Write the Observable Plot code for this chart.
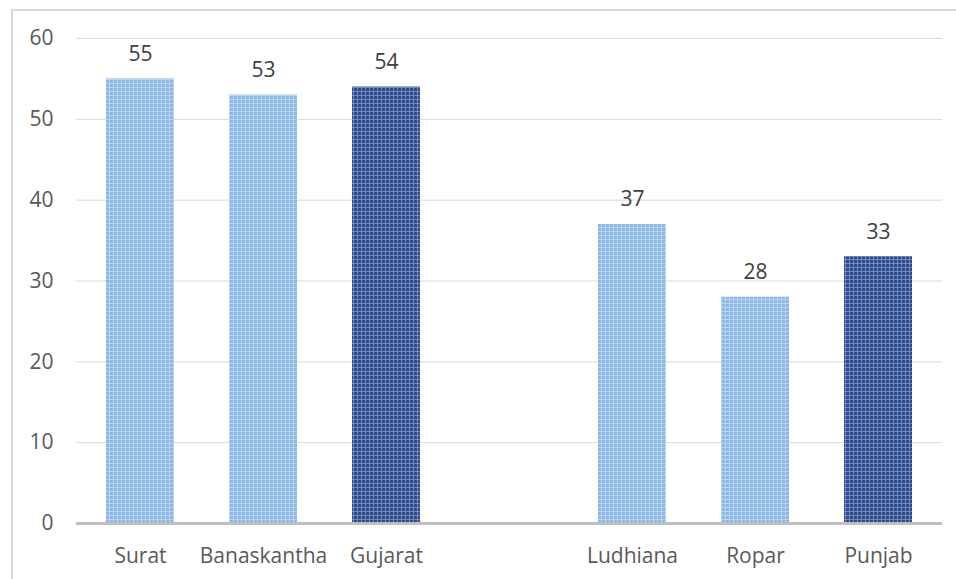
<!DOCTYPE html>
<html>
<head>
<meta charset="utf-8">
<script src="https://cdn.jsdelivr.net/npm/d3@7"></script>
<script src="https://cdn.jsdelivr.net/npm/@observablehq/plot@0.6"></script>
<style>
  html, body { margin: 0; padding: 0; background: #fff; }
  #frame {
    position: absolute; left: 11px; top: 9px;
    border-left: 2px solid #d9d9d9; border-top: 2px solid #d9d9d9;
    width: 943px; height: 570px;
  }
  #frame svg { display: block; }
</style>
</head>
<body>
<div id="frame"></div>
<script>
// Districts and state totals; a blank slot separates the two states
const categories = ["Surat", "Banaskantha", "Gujarat", "", "Ludhiana", "Ropar", "Punjab"];
const districts = ["Surat", "Banaskantha", "Ludhiana", "Ropar"];
const districtValues = [55, 53, 37, 28];
const states = ["Gujarat", "Punjab"];
const stateValues = [54, 33];
const yTicks = [0, 10, 20, 30, 40, 50, 60];

const districtRows = districts.map((name, i) => ({name, value: districtValues[i]}));
const stateRows = states.map((name, i) => ({name, value: stateValues[i]}));
const allRows = districtRows.concat(stateRows);

const font = "'Open Sans', sans-serif";

const chart = Plot.plot({
  width: 943,
  height: 568,
  marginLeft: 63,
  marginRight: 14,
  marginTop: 27,
  marginBottom: 56,
  style: {fontFamily: font, fontSize: "21px", color: "#595959", background: "#fff"},
  x: {domain: categories, paddingInner: 0.45, paddingOuter: 0.225, label: null, tickSize: 0, tickPadding: 25},
  y: {domain: [0, 60], ticks: yTicks, label: null, tickSize: 0, tickPadding: 23},
  marks: [
    Plot.gridY(yTicks.filter(t => t > 0), {stroke: "#d9d9d9", strokeOpacity: 1, strokeWidth: 1}),
    Plot.barY(districtRows, {x: "name", y: "value", fill: "url(#lightGrid)"}),
    Plot.barY(stateRows, {x: "name", y: "value", fill: "url(#darkGrid)"}),
    Plot.ruleY([0], {stroke: "#bfbfbf", strokeWidth: 3}),
    Plot.text(allRows, {x: "name", y: "value", text: d => String(d.value), lineAnchor: "bottom", dy: -18, fill: "#404040", fontSize: 21})
  ]
});

// Checked fill patterns for the bars
const svg = d3.select(chart);
const defs = svg.insert("defs", ":first-child");
function grid(id, bg, line) {
  const p = defs.append("pattern")
    .attr("id", id).attr("patternUnits", "userSpaceOnUse")
    .attr("width", 4).attr("height", 4);
  p.append("rect").attr("width", 4).attr("height", 4).attr("fill", bg);
  p.append("rect").attr("x", 0).attr("y", 0).attr("width", 4).attr("height", 1).attr("fill", line);
  p.append("rect").attr("x", 0).attr("y", 0).attr("width", 1).attr("height", 4).attr("fill", line);
}
grid("lightGrid", "#8cb8e6", "#b8d4f2");
grid("darkGrid", "#2e4a88", "#7489bd");

document.getElementById("frame").appendChild(chart);
</script>
</body>
</html>
